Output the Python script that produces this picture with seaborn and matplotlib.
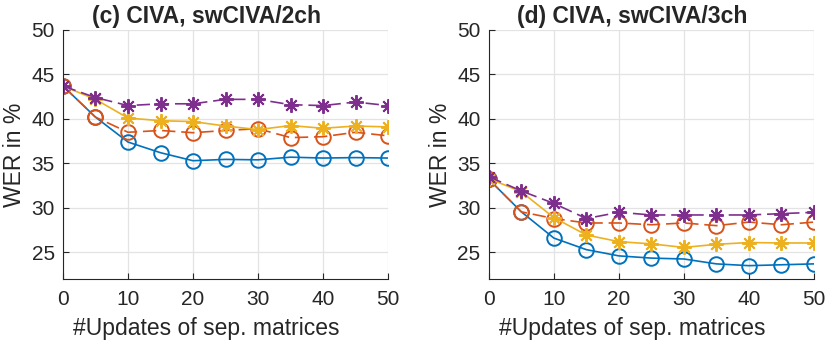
import pandas as pd
import matplotlib.pyplot as plt
import seaborn as sns

# -------------------------------
# Data
# -------------------------------
updates = [0, 5, 10, 15, 20, 25, 30, 35, 40, 45, 50]

# (c) CIVA, swCIVA/2ch
c_blue = [43.7, 40.2, 37.4, 36.2, 35.3, 35.45, 35.4, 35.7, 35.6, 35.65, 35.6]
c_orange = [43.7, 40.2, 38.5, 38.7, 38.45, 38.7, 38.9, 37.9, 38.0, 38.5, 38.1]
c_yellow = [43.7, 42.2, 40.1, 39.8, 39.7, 39.2, 38.8, 39.25, 38.95, 39.2, 39.1]
c_purple = [43.7, 42.4, 41.5, 41.7, 41.7, 42.2, 42.2, 41.6, 41.5, 41.9, 41.5]

# (d) CIVA, swCIVA/3ch
d_blue = [33.2, 29.55, 26.6, 25.3, 24.6, 24.35, 24.25, 23.7, 23.5, 23.6, 23.7]
d_orange = [33.2, 29.55, 28.8, 28.3, 28.3, 28.1, 28.3, 28.0, 28.4, 28.1, 28.4]
d_yellow = [33.3, 31.8, 28.9, 26.95, 26.2, 25.95, 25.55, 25.9, 26.1, 26.05, 26.05]
d_purple = [33.5, 31.9, 30.5, 28.8, 29.5, 29.2, 29.2, 29.2, 29.2, 29.35, 29.5]

titles = ["(c) CIVA, swCIVA/2ch", "(d) CIVA, swCIVA/3ch"]
yticks = [25, 30, 35, 40, 45, 50]
xticks = [0, 10, 20, 30, 40, 50]

# -------------------------------
# Styling
# -------------------------------
sns.set_style("white")
plt.rcParams["font.family"] = ["Liberation Sans", "DejaVu Sans"]

colors = ["#0072BD", "#D95319", "#EDB120", "#7E2F8E"]
markers = ["o", "o", (8, 2, 0), (8, 2, 0)]
dashed = [False, True, False, True]

fig = plt.figure(figsize=(8.3, 3.4), dpi=100)
ax_c = fig.add_axes([0.0759, 0.1794, 0.3916, 0.7324])
ax_d = fig.add_axes([0.589, 0.1794, 0.3916, 0.7324])

panels = [
    (ax_c, [c_blue, c_orange, c_yellow, c_purple]),
    (ax_d, [d_blue, d_orange, d_yellow, d_purple]),
]

for (ax, series), title in zip(panels, titles):
    for vals, col, mk, dsh in zip(series, colors, markers, dashed):
        df = pd.DataFrame({"x": updates, "y": vals})
        line_ax = sns.lineplot(data=df, x="x", y="y", ax=ax, color=col,
                               marker=mk, linewidth=1.2,
                               markersize=10.5, markerfacecolor="none",
                               markeredgecolor=col, markeredgewidth=1.4)
        if dsh:
            line_ax.lines[-1].set_dashes((8, 3.5))
    ax.set_xlim(0, 50)
    ax.set_ylim(22, 50)
    ax.set_xticks(xticks)
    ax.set_yticks(yticks)
    ax.grid(True, color="#e3e3e3", linewidth=0.9)
    ax.set_axisbelow(True)
    for side in ["top", "right"]:
        ax.spines[side].set_visible(False)
    for side in ["left", "bottom"]:
        ax.spines[side].set_color("#262626")
        ax.spines[side].set_linewidth(0.8)
    ax.tick_params(bottom=True, left=True, direction="in", length=4,
                   width=0.8, colors="#262626", labelsize=15)
    ax.tick_params(axis="x", pad=8)
    ax.tick_params(axis="y", pad=6)
    ax.set_xlabel("#Updates of sep. matrices", fontsize=16.5, color="#262626",
                  labelpad=6)
    ax.xaxis.label.set_x(0.44)
    ax.set_ylabel("WER in %", fontsize=16.5, color="#262626", labelpad=4)
    ax.set_title(title, fontsize=16.5, fontweight="bold", pad=5, x=0.44)

fig.savefig("out.png", dpi=100)
